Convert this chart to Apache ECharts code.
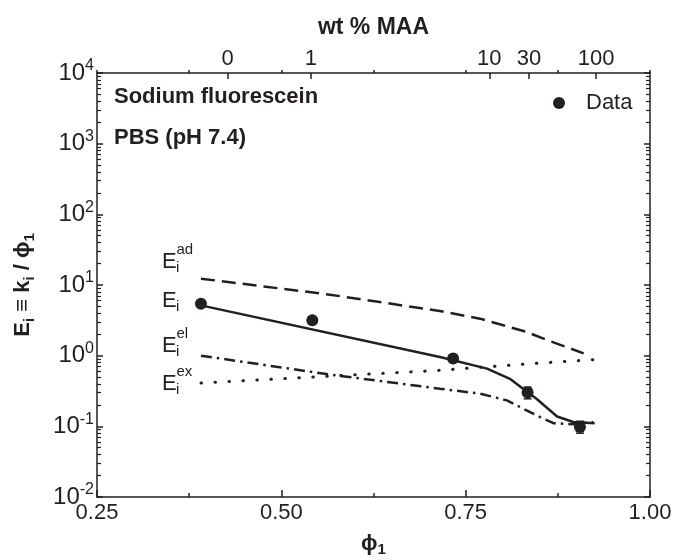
<!DOCTYPE html>
<html>
<head>
<meta charset="utf-8">
<script src="https://cdn.jsdelivr.net/npm/echarts@6/dist/echarts.min.js"></script>
<style>html,body{margin:0;padding:0;background:#fff}#c{width:678px;height:560px}</style>
</head>
<body>
<div id="c"></div>
<script>
// ---- data ----
const dataPhi = [0.391, 0.542, 0.733, 0.834, 0.905];
const dataE   = [5.44, 3.16, 0.91, 0.30, 0.098];
const errPhi  = [0.834, 0.905];
const errLow  = [0.245, 0.080];
const errHigh = [0.36, 0.118];

const adPhi = [0.391, 0.566, 0.715, 0.7695, 0.833, 0.864, 0.910];
const adE   = [12.3, 7.3, 4.28, 3.34, 2.16, 1.61, 1.08];

const eiPhi = [0.391, 0.715, 0.779, 0.810, 0.826, 0.846, 0.874, 0.896, 0.925];
const eiE   = [5.15, 0.955, 0.655, 0.47, 0.352, 0.246, 0.138, 0.115, 0.111];

const elPhi = [0.391, 0.566, 0.715, 0.7695, 0.806, 0.828, 0.851, 0.869, 0.896, 0.923];
const elE   = [1.0, 0.54, 0.341, 0.29, 0.233, 0.178, 0.135, 0.111, 0.107, 0.115];

const exPhi = [0.391, 0.715, 0.7875, 0.851, 0.923];
const exE   = [0.41, 0.62, 0.706, 0.787, 0.877];

const wtLabels = ['0', '1', '10', '30', '100'];
const wtPhi    = [0.427, 0.540, 0.782, 0.836, 0.927];

const xMin = 0.25, xMax = 1.0, xStep = 0.25;
const yMin = 0.01, yMax = 10000;

// ---- styling ----
const C = '#231f20';
const FF = 'Liberation Sans';
const PHI = '\u03d5';
const pairs = (xs, ys) => xs.map((x, i) => [x, ys[i]]);

const minorLog = [];
for (let k = Math.log10(yMin); k < Math.log10(yMax); k++) {
  for (let m = 2; m <= 9; m++) minorLog.push(k + Math.log10(m));
}

const chart = echarts.init(document.getElementById('c'), null, {renderer: 'canvas'});

const axisLineStyle = {color: C, width: 1.5};

function eLabel(x, baseline, sup) {
  const els = [
    {type: 'text', x: x, y: baseline - 7.7, style: {text: 'E', fill: C, font: '22px "' + FF + '"', verticalAlign: 'middle', align: 'left'}},
    {type: 'text', x: x + 14, y: baseline + 3.5 - 5.2, style: {text: 'i', fill: C, font: '15px "' + FF + '"', verticalAlign: 'middle', align: 'left'}}
  ];
  if (sup) els.push({type: 'text', x: x + 14.5, y: baseline - 14.5 - 5.2, style: {text: sup, fill: C, font: '15px "' + FF + '"', verticalAlign: 'middle', align: 'left'}});
  return els;
}

const option = {
  backgroundColor: '#fff',
  animation: false,
  grid: {left: 97, right: 28, top: 73, bottom: 63, containLabel: false, outerBoundsMode: 'none'},
  legend: {
    data: ['Data'], left: 548, top: 87, padding: 5,
    itemWidth: 44, itemHeight: 12, icon: 'circle',
    textStyle: {fontSize: 22, color: C, fontFamily: FF}
  },
  xAxis: [
    {
      type: 'value', position: 'bottom', min: xMin, max: xMax, interval: xStep,
      axisLine: {onZero: false, lineStyle: axisLineStyle},
      axisTick: {inside: true, length: 7, lineStyle: axisLineStyle},
      minorTick: {show: true, splitNumber: 2, length: 4, lineStyle: axisLineStyle},
      splitLine: {show: false},
      axisLabel: {formatter: v => v.toFixed(2), fontSize: 22, color: C, fontFamily: FF, margin: 5},
      name: '{b|' + PHI + '}{s|1}', nameLocation: 'middle', nameGap: 34,
      nameTextStyle: {rich: {
        b: {fontSize: 22, fontWeight: 'bold', color: C, fontFamily: FF, lineHeight: 26},
        s: {fontSize: 15, fontWeight: 'bold', color: C, fontFamily: FF, lineHeight: 13, verticalAlign: 'bottom'}
      }}
    },
    {
      type: 'value', position: 'top', min: xMin, max: xMax,
      axisLine: {onZero: false, lineStyle: axisLineStyle},
      axisTick: {inside: true, length: 6, customValues: wtPhi, lineStyle: axisLineStyle},
      splitLine: {show: false},
      axisLabel: {
        customValues: wtPhi,
        formatter: v => {
          let bi = 0;
          wtPhi.forEach((p, i) => { if (Math.abs(p - v) < Math.abs(wtPhi[bi] - v)) bi = i; });
          return wtLabels[bi];
        },
        fontSize: 22, color: C, fontFamily: FF, margin: 3
      },
      name: 'wt % MAA', nameLocation: 'middle', nameGap: 34,
      nameTextStyle: {fontSize: 23, fontWeight: 'bold', color: C, fontFamily: FF}
    },
    {
      type: 'value', position: 'top', min: xMin, max: xMax, interval: xStep / 2,
      axisLine: {show: false, onZero: false},
      axisTick: {inside: false, length: 3, lineStyle: axisLineStyle},
      axisLabel: {show: false}, splitLine: {show: false}
    }
  ],
  yAxis: [
    {
      type: 'log', logBase: 10, position: 'left', min: yMin, max: yMax,
      axisLine: {onZero: false, lineStyle: axisLineStyle},
      axisTick: {inside: true, length: 6, lineStyle: axisLineStyle},
      splitLine: {show: false},
      axisLabel: {
        formatter: v => '{b|10}{e|' + Math.round(Math.log10(v)) + '}',
        margin: 3,
        rich: {
          b: {fontSize: 24, color: C, fontFamily: FF, lineHeight: 30},
          e: {fontSize: 16, color: C, fontFamily: FF, lineHeight: 16, verticalAlign: 'top'}
        }
      },
      name: '{b|E}{s|i}{b| \u2261 k}{s|i}{b| / ' + PHI + '}{s|1}',
      nameLocation: 'middle', nameRotate: 90, nameGap: 60,
      nameTextStyle: {rich: {
        b: {fontSize: 22, fontWeight: 'bold', color: C, fontFamily: FF, lineHeight: 28},
        s: {fontSize: 15, fontWeight: 'bold', color: C, fontFamily: FF, lineHeight: 14, verticalAlign: 'bottom'}
      }}
    },
    {
      type: 'log', logBase: 10, position: 'right', min: yMin, max: yMax,
      axisLine: {onZero: false, lineStyle: axisLineStyle},
      axisTick: {inside: true, length: 6, lineStyle: axisLineStyle},
      axisLabel: {show: false}, splitLine: {show: false}
    },
    {
      type: 'value', position: 'left', min: Math.log10(yMin), max: Math.log10(yMax),
      axisLine: {show: false, onZero: false},
      axisTick: {inside: true, length: 4, customValues: minorLog, lineStyle: {color: C, width: 1.2}},
      axisLabel: {show: false}, splitLine: {show: false}
    },
    {
      type: 'value', position: 'right', min: Math.log10(yMin), max: Math.log10(yMax),
      axisLine: {show: false, onZero: false},
      axisTick: {inside: true, length: 4, customValues: minorLog, lineStyle: {color: C, width: 1.2}},
      axisLabel: {show: false}, splitLine: {show: false}
    }
  ],
  graphic: [
    {type: 'text', x: 114, y: 97, style: {text: 'Sodium fluorescein', fill: C, font: 'bold 22px "' + FF + '"', verticalAlign: 'middle', align: 'left'}},
    {type: 'text', x: 114, y: 138, style: {text: 'PBS (pH 7.4)', fill: C, font: 'bold 22px "' + FF + '"', verticalAlign: 'middle', align: 'left'}}
  ].concat(
    eLabel(162, 270, 'ad'),
    eLabel(162, 308.3, null),
    eLabel(162, 353.3, 'el'),
    eLabel(162, 391.7, 'ex')
  ),
  series: [
    {name: 'ad', type: 'line', data: pairs(adPhi, adE), showSymbol: false, symbol: 'none',
     lineStyle: {color: C, width: 2.5, type: [14, 7]}, z: 2},
    {name: 'Ei', type: 'line', data: pairs(eiPhi, eiE), showSymbol: false, symbol: 'none',
     lineStyle: {color: C, width: 2.5, type: 'solid'}, z: 2},
    {name: 'el', type: 'line', data: pairs(elPhi, elE), showSymbol: false, symbol: 'none',
     lineStyle: {color: C, width: 2.5, type: [11, 5, 2.5, 5]}, z: 2},
    {name: 'ex', type: 'line', data: pairs(exPhi, exE), showSymbol: false, symbol: 'none',
     lineStyle: {color: C, width: 3, type: [0.5, 13.5], cap: 'round'}, z: 2},
    {
      name: 'err', type: 'custom',
      data: errPhi.map((p, i) => [p, errLow[i], errHigh[i]]),
      encode: {x: 0, y: [1, 2]},
      renderItem: (params, api) => {
        const lo = api.coord([api.value(0), api.value(1)]);
        const hi = api.coord([api.value(0), api.value(2)]);
        const st = {stroke: C, lineWidth: 1.5};
        return {type: 'group', children: [
          {type: 'line', shape: {x1: lo[0], y1: lo[1], x2: hi[0], y2: hi[1]}, style: st},
          {type: 'line', shape: {x1: lo[0] - 4, y1: lo[1], x2: lo[0] + 4, y2: lo[1]}, style: st},
          {type: 'line', shape: {x1: hi[0] - 4, y1: hi[1], x2: hi[0] + 4, y2: hi[1]}, style: st}
        ]};
      },
      z: 3
    },
    {name: 'Data', type: 'scatter', data: pairs(dataPhi, dataE), symbol: 'circle', symbolSize: 12,
     itemStyle: {color: C, opacity: 1}, z: 4}
  ]
};
chart.setOption(option);
</script>
</body>
</html>
